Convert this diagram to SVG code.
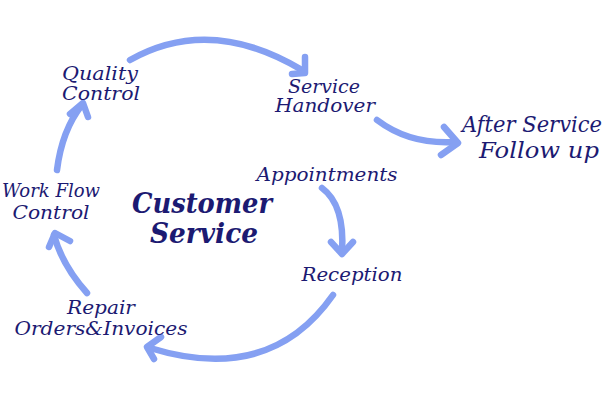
<svg xmlns="http://www.w3.org/2000/svg" width="610" height="405" viewBox="0 0 610 405">
<style>
.bg{fill:#ffffff}
.c{fill:none;stroke:#85a0f2;stroke-width:6.5;stroke-linecap:round;stroke-linejoin:round}
.t{font-family:"DejaVu Serif","Liberation Serif",serif;font-style:italic;fill:#1c1a72;text-anchor:middle}
.s{font-size:18.5px}
.m{font-size:23px}
.l{font-size:27px;font-weight:bold}
</style>
<rect class="bg" width="610" height="405"/>
<g id="connectors">
<path class="c" d="M130,60 Q210,15 302,70"/>
<path class="c" d="M305,57 L305,73 L292,74"/>
<path class="c" d="M377,120 Q410,145 456,142"/>
<path class="c" d="M444,127 L458,143 L441,155"/>
<path class="c" d="M322,188 Q345,205 342,252"/>
<path class="c" d="M331,242 L342,254 L353,242"/>
<path class="c" d="M333,295 Q270,385 150,348"/>
<path class="c" d="M161,337 L147,347 L154,359"/>
<path class="c" d="M87,293 Q62,265 54,235"/>
<path class="c" d="M49,247 L55,233 L70,241"/>
<path class="c" d="M57,170 Q62,130 82,105"/>
<path class="c" d="M70,114 L83,103 L88,117"/>
</g>
<g id="center"><text class="t l" x="202" y="213" textLength="140" lengthAdjust="spacingAndGlyphs">Customer</text><text class="t l" x="204" y="243" textLength="108" lengthAdjust="spacingAndGlyphs">Service</text></g>
<g id="quality"><text class="t s" x="100" y="80" textLength="76" lengthAdjust="spacingAndGlyphs">Quality</text><text class="t s" x="101" y="100" textLength="78" lengthAdjust="spacingAndGlyphs">Control</text></g>
<g id="handover"><text class="t s" x="324" y="93" textLength="72" lengthAdjust="spacingAndGlyphs">Service</text><text class="t s" x="325" y="112" textLength="100" lengthAdjust="spacingAndGlyphs">Handover</text></g>
<g id="after"><text class="t m" x="532" y="132" textLength="140" lengthAdjust="spacingAndGlyphs">After Service</text><text class="t m" x="539" y="158" textLength="120" lengthAdjust="spacingAndGlyphs">Follow up</text></g>
<g id="appointments"><text class="t s" x="327" y="181" textLength="141" lengthAdjust="spacingAndGlyphs">Appointments</text></g>
<g id="reception"><text class="t s" x="352" y="281" textLength="101" lengthAdjust="spacingAndGlyphs">Reception</text></g>
<g id="repair"><text class="t s" x="101" y="314" textLength="68" lengthAdjust="spacingAndGlyphs">Repair</text><text class="t s" x="101" y="335" textLength="173" lengthAdjust="spacingAndGlyphs">Orders&amp;Invoices</text></g>
<g id="workflow"><text class="t s" x="51" y="197" textLength="98" lengthAdjust="spacingAndGlyphs">Work Flow</text><text class="t s" x="51" y="219" textLength="77" lengthAdjust="spacingAndGlyphs">Control</text></g>
</svg>
